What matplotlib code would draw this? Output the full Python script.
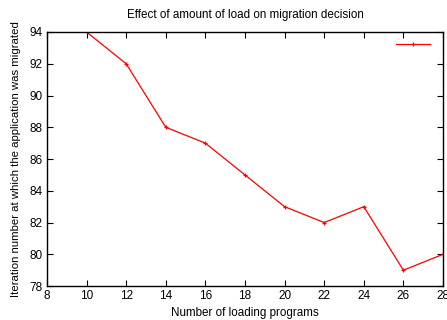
import matplotlib
matplotlib.use("Agg")
import matplotlib.pyplot as plt

plt.rcParams['font.family'] = ['Liberation Sans', 'DejaVu Sans']

programs = [10, 12, 14, 16, 18, 20, 22, 24, 26, 28]
iterations = [94, 92, 88, 87, 85, 83, 82, 83, 79, 80]

fig = plt.figure(figsize=(4.47, 3.2), dpi=100)
ax = fig.add_axes([0.105, 0.106, 0.886, 0.794])

ax.plot(programs, iterations, color="red", linewidth=0.9, marker="+",
        markersize=3.5, markeredgewidth=0.9, label=" ")

ax.set_xlim(8, 28)
ax.set_ylim(78, 94)
ax.set_xticks(range(8, 29, 2))
ax.set_yticks(range(78, 95, 2))
ax.tick_params(direction="in", top=True, right=True, labelsize=8.5, length=4.5, width=0.8, pad=3)
for s in ax.spines.values():
    s.set_linewidth(1.0)

ax.set_title("Effect of amount of load on migration decision", fontsize=8.4, pad=10)
ax.set_xlabel("Number of loading programs", fontsize=8.4, labelpad=3.5)
ax.set_ylabel("Iteration number at which the application was migrated", fontsize=8.2, labelpad=6)

ax.legend(loc="upper right", frameon=False, handlelength=3.2, fontsize=7.5,
          borderaxespad=0.3, handletextpad=0.3)

fig.savefig("out.png", dpi=100)
